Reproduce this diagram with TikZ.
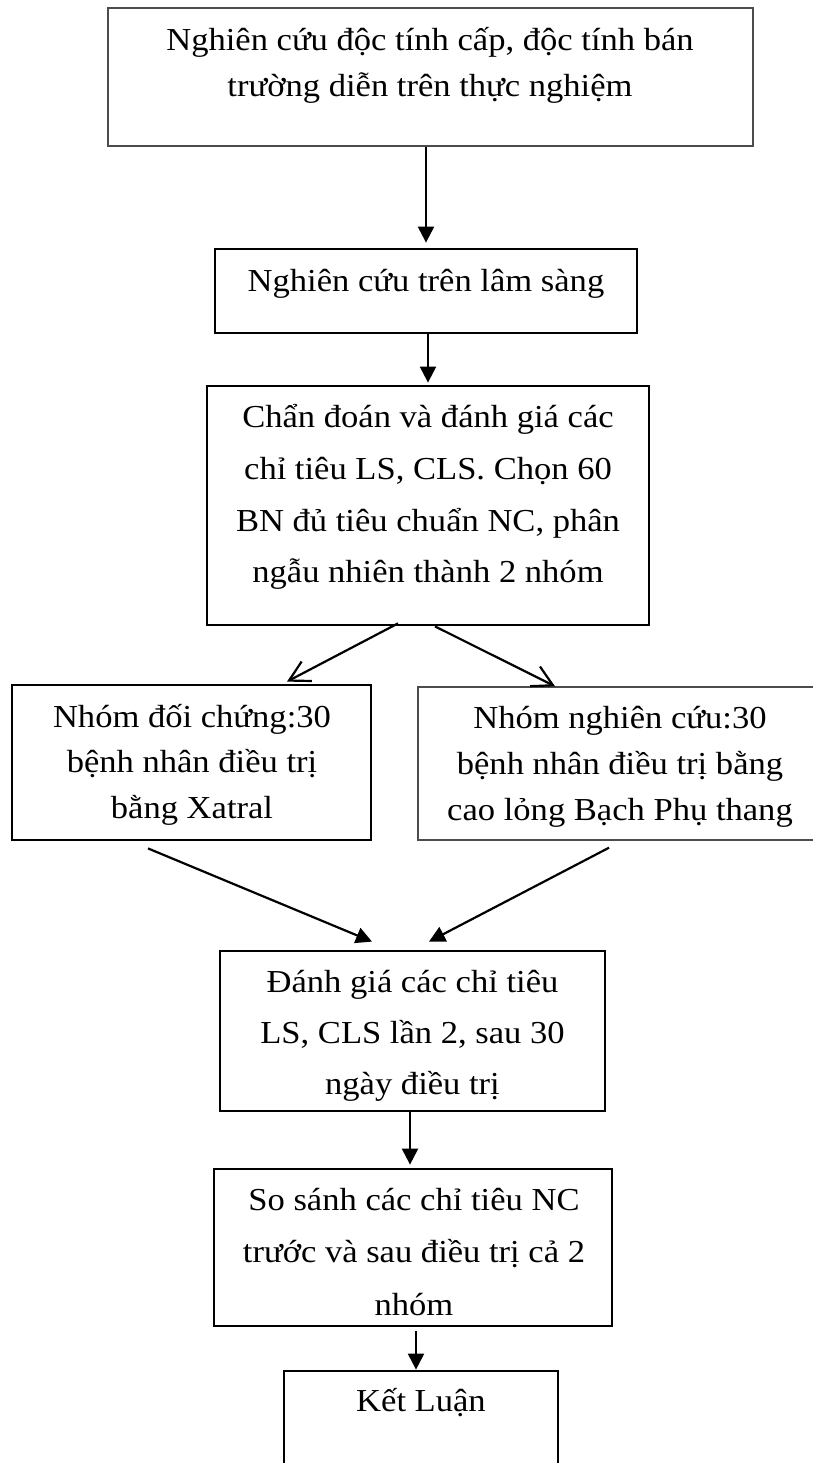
\documentclass[tikz,border=0pt]{standalone}
\usepackage{fontspec}
\setmainfont{Liberation Serif}[FakeStretch=1.08]
\usetikzlibrary{arrows.meta}
\begin{document}
\begin{tikzpicture}[x=1pt,y=-1pt,
  box/.style={draw=black, line width=2.8pt, rectangle, inner sep=0pt},
  thinbox/.style={draw=black!70, line width=1.4pt, rectangle, inner sep=0pt},
  txt/.style={align=center, inner sep=0pt, font=\fontsize{32}{46}\selectfont},
  arr/.style={line width=2.2pt, -{Triangle[length=16pt,width=16pt]}},
  varr/.style={line width=2.2pt, -{Straight Barb[length=20pt,width=22pt]}}
]
\useasboundingbox (0,0) rectangle (813,1463);
% boxes
\node[thinbox, minimum width=645pt, minimum height=138pt] (b1) at (430.5,77) {};
\node[box, minimum width=422pt, minimum height=84pt] (b2) at (426,291) {};
\node[box, minimum width=442pt, minimum height=239pt] (b3) at (428,505.5) {};
\node[box, minimum width=359pt, minimum height=155pt] (b4) at (191.5,762.5) {};
\node[thinbox, minimum width=404pt, minimum height=153pt] (b5) at (620,763.5) {};
\node[box, minimum width=385pt, minimum height=160pt] (b6) at (412.5,1031) {};
\node[box, minimum width=398pt, minimum height=157pt] (b7) at (413,1247.5) {};
\node[box, minimum width=274pt, minimum height=160pt] (b8) at (421,1451) {};
% texts
\node[txt] (t1) at (430,64) {\strut Nghiên cứu độc tính cấp, độc tính bán\\\strut trường diễn trên thực nghiệm};
\node[txt] (t2) at (426,282) {\strut Nghiên cứu trên lâm sàng};
\node[txt, font=\fontsize{32}{51.7}\selectfont] (t3) at (428,495) {\strut Chẩn đoán và đánh giá các\\\strut chỉ tiêu LS, CLS. Chọn 60\\\strut BN đủ tiêu chuẩn NC, phân\\\strut ngẫu nhiên thành 2 nhóm};
\node[txt, font=\fontsize{32}{45.5}\selectfont] (t4) at (192,763.5) {\strut Nhóm đối chứng:30\\\strut bệnh nhân điều trị\\\strut bằng Xatral};
\node[txt] (t5) at (620,765) {\strut Nhóm nghiên cứu:30\\\strut bệnh nhân điều trị bằng\\\strut cao lỏng Bạch Phụ thang};
\node[txt, font=\fontsize{32}{51}\selectfont] (t6) at (412.5,1033) {\strut Đánh giá các chỉ tiêu\\\strut LS, CLS lần 2, sau 30\\\strut ngày điều trị};
\node[txt, font=\fontsize{32}{52.5}\selectfont] (t7) at (414,1252) {\strut So sánh các chỉ tiêu NC\\\strut trước và sau điều trị cả 2\\\strut nhóm};
\node[txt] (t8) at (421,1402) {\strut Kết Luận};
% connectors
\draw[arr] ([xshift=-4.5pt]b1.south) -- ([yshift=5pt]b2.north);
\draw[arr] ([xshift=2pt]b2.south) -- ([yshift=2pt]b3.north);
\draw[varr] ([xshift=-30pt,yshift=3pt]b3.south) -- ([xshift=95.5pt,yshift=2pt]b4.north);
\draw[varr] ([xshift=7pt]b3.south) -- ([xshift=-65pt]b5.north);
\draw[arr] ([xshift=-43.5pt,yshift=-7pt]b4.south) -- ([xshift=-40.5pt,yshift=8pt]b6.north);
\draw[arr] ([xshift=-11pt,yshift=-7pt]b5.south) -- ([xshift=16.5pt,yshift=8pt]b6.north);
\draw[arr] ([xshift=-2.5pt]b6.south) -- ([xshift=-3pt,yshift=3pt]b7.north);
\draw[arr] ([xshift=3pt,yshift=-4pt]b7.south) -- ([xshift=-5pt]b8.north);
\end{tikzpicture}
\end{document}
